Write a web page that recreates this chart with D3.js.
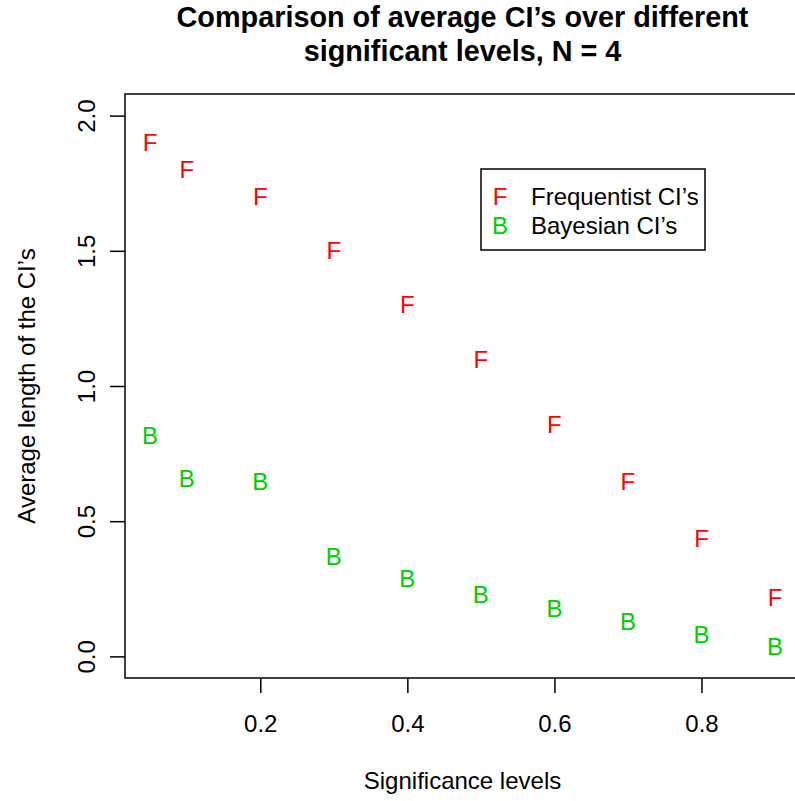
<!DOCTYPE html>
<html>
<head>
<meta charset="utf-8">
<style>
body { margin: 0; background: #fff; }
svg { display: block; font-family: "Liberation Sans", Arial, sans-serif; }
.axis path, .axis line { stroke: #000; stroke-width: 1.5; }
.axis text { fill: #000; font-size: 24px; font-family: "Liberation Sans", Arial, sans-serif; }
</style>
</head>
<body>
<svg id="chart" width="795" height="801"></svg>
<script src="https://d3js.org/d3.v7.min.js"></script>
<script>

var levels = [0.05, 0.1, 0.2, 0.3, 0.4, 0.5, 0.6, 0.7, 0.8, 0.9];
var freqCI = [1.90, 1.80, 1.70, 1.50, 1.30, 1.10, 0.858, 0.649, 0.438, 0.219];
var bayesCI = [0.819, 0.659, 0.649, 0.371, 0.289, 0.231, 0.179, 0.130, 0.083, 0.038];
var xTicks = [0.2, 0.4, 0.6, 0.8];
var yTicks = [0.0, 0.5, 1.0, 1.5, 2.0];
var legendItems = [
    {sym: "F", label: "Frequentist CI\u2019s", color: "#ff0000"},
    {sym: "B", label: "Bayesian CI\u2019s", color: "#00cd00"}
];

var plot = {left: 125, right: 800, top: 94, bottom: 678};

var svg = d3.select("#chart");

// scales (R style: data range padded by 4%)
var xScale = d3.scaleLinear()
    .domain([0.016, 0.934])
    .range([plot.left, plot.right]);

var yScale = d3.scaleLinear()
    .domain([-0.08, 2.08])
    .range([plot.bottom, plot.top]);

// x axis
var xAxis = svg.append("g")
    .attr("class", "axis")
    .attr("transform", "translate(0," + plot.bottom + ")")
    .call(d3.axisBottom(xScale).tickValues(xTicks).tickSize(15).tickSizeOuter(0)
        .tickFormat(d3.format(".1f")));
xAxis.select(".domain").remove();
xAxis.selectAll("text").attr("y", 54).attr("dy", null);

// y axis
var yAxis = svg.append("g")
    .attr("class", "axis")
    .attr("transform", "translate(" + plot.left + ",0)")
    .call(d3.axisLeft(yScale).tickValues(yTicks).tickSize(15).tickSizeOuter(0)
        .tickFormat(d3.format(".1f")));
yAxis.select(".domain").remove();
yAxis.selectAll("text")
    .attr("x", null).attr("dy", null)
    .attr("text-anchor", "middle")
    .attr("transform", "translate(-30,0) rotate(-90)");

// plot box
svg.append("rect")
    .attr("x", plot.left)
    .attr("y", plot.top)
    .attr("width", plot.right - plot.left)
    .attr("height", plot.bottom - plot.top)
    .attr("fill", "none")
    .attr("stroke", "#000")
    .attr("stroke-width", 1.5);

// points drawn as letters
function drawLetters(values, sym, color) {
    svg.append("g").selectAll("text")
        .data(values)
        .enter()
        .append("text")
        .attr("x", function(d, i) { return xScale(levels[i]); })
        .attr("y", function(d) { return yScale(d) + 8.6; })
        .attr("text-anchor", "middle")
        .attr("font-size", 24)
        .attr("fill", color)
        .text(sym);
}
drawLetters(freqCI, "F", "#ff0000");
drawLetters(bayesCI, "B", "#00cd00");

// legend
var legend = svg.append("g");
legend.append("rect")
    .attr("x", 481).attr("y", 169)
    .attr("width", 224).attr("height", 81)
    .attr("fill", "#fff")
    .attr("stroke", "#000")
    .attr("stroke-width", 1.5);
legendItems.forEach(function(d, i) {
    var by = 205 + i * 28.7;
    legend.append("text")
        .attr("x", 500).attr("y", by)
        .attr("text-anchor", "middle")
        .attr("font-size", 24)
        .attr("fill", d.color)
        .text(d.sym);
    legend.append("text")
        .attr("x", 531).attr("y", by)
        .attr("font-size", 24)
        .attr("fill", "#000")
        .text(d.label);
});

// titles
var cx = (plot.left + plot.right) / 2;
svg.append("text")
    .attr("x", cx).attr("y", 27)
    .attr("text-anchor", "middle")
    .attr("font-size", 28.8).attr("font-weight", "bold")
    .text("Comparison of average CI\u2019s over different");
svg.append("text")
    .attr("x", cx).attr("y", 61)
    .attr("text-anchor", "middle")
    .attr("font-size", 28.8).attr("font-weight", "bold")
    .text("significant levels, N = 4");

svg.append("text")
    .attr("x", cx).attr("y", 789)
    .attr("text-anchor", "middle")
    .attr("font-size", 24)
    .text("Significance levels");

svg.append("text")
    .attr("transform", "translate(35," + ((plot.top + plot.bottom) / 2) + ") rotate(-90)")
    .attr("text-anchor", "middle")
    .attr("font-size", 24)
    .text("Average length of the CI\u2019s");

</script>
</body>
</html>
